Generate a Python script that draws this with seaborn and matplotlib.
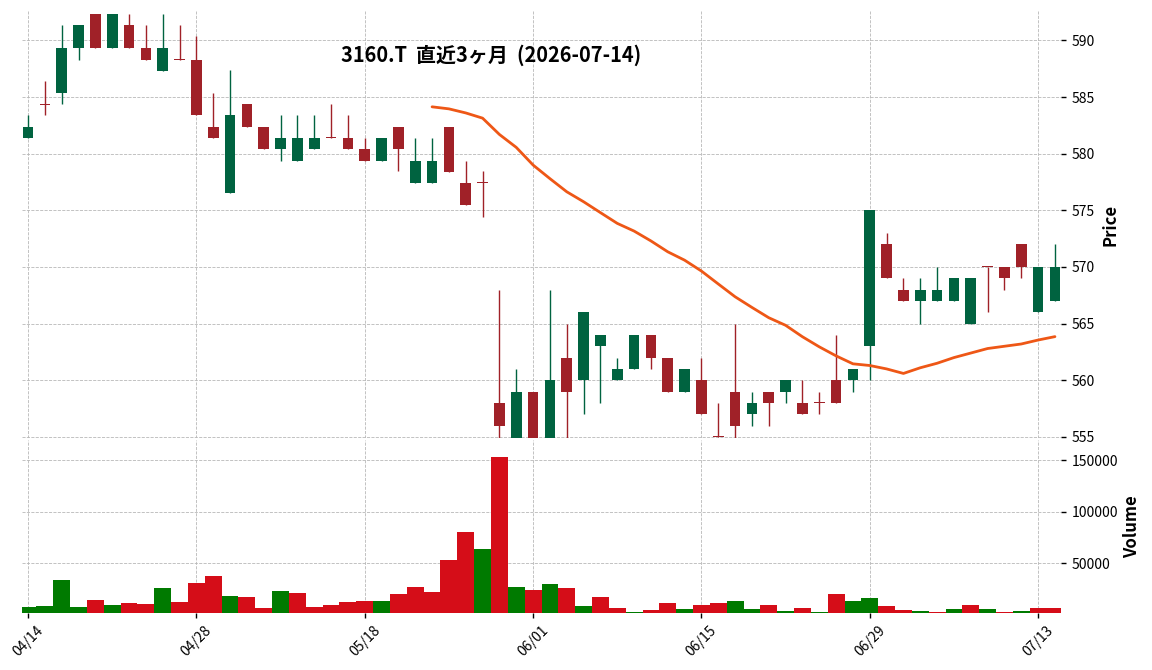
import matplotlib
matplotlib.use("Agg")
import matplotlib.pyplot as plt
import seaborn as sns
import numpy as np

# 日足データ (チャートから読み取り)
opens = [581.4, 584.35, 585.4, 589.3, 592.3, 589.3, 591.35, 589.3, 587.3, 588.3,
         588.3, 582.4, 576.5, 584.4, 582.4, 580.4, 579.4, 580.4, 581.4, 581.4,
         580.45, 579.4, 582.4, 577.4, 577.4, 582.4, 577.45, 577.45, 558, 553,
         559, 553, 562, 560, 563, 560, 561, 564, 562, 559,
         560, 555, 559, 557, 559, 559, 558, 558, 560, 560,
         563, 572, 568, 567, 567, 567, 565, 570, 570, 572,
         566, 567]
highs = [583.4, 586.4, 591.35, 591.35, 592.3, 592.3, 592.3, 591.35, 592.3, 591.35,
         590.4, 585.4, 587.35, 584.4, 582.4, 583.4, 583.4, 583.4, 584.35, 583.4,
         581.4, 581.4, 582.4, 581.4, 581.4, 582.4, 579.4, 578.45, 568, 561,
         559, 568, 565, 566, 564, 562, 564, 564, 562, 561,
         562, 558, 565, 559, 559, 560, 560, 559, 564, 561,
         575, 573, 569, 569, 570, 569, 569, 570, 570, 572,
         570, 572]
lows = [581.4, 583.4, 584.35, 588.3, 589.3, 589.3, 589.3, 588.3, 587.3, 588.3,
        583.4, 581.4, 576.5, 582.4, 580.4, 579.4, 579.4, 580.4, 581.4, 580.4,
        579.4, 579.4, 578.45, 577.4, 577.4, 578.4, 575.5, 574.45, 552, 553,
        553, 553, 554, 557, 558, 560, 561, 561, 559, 559,
        557, 555, 554, 556, 556, 558, 557, 557, 558, 559,
        560, 569, 567, 565, 567, 567, 565, 566, 568, 569,
        566, 567]
closes = [582.4, 584.35, 589.3, 591.35, 589.3, 592.3, 589.3, 588.3, 589.3, 588.3,
          583.4, 581.4, 583.4, 582.4, 580.4, 581.4, 581.4, 581.4, 581.4, 580.4,
          579.4, 581.4, 580.4, 579.4, 579.4, 578.4, 575.5, 577.45, 556, 559,
          553, 560, 559, 566, 564, 561, 564, 562, 559, 561,
          557, 555, 556, 558, 558, 560, 557, 558, 558, 561,
          575, 569, 567, 568, 568, 569, 569, 570, 569, 570,
          570, 570]
volumes = [7600, 8800, 33800, 7600, 14400, 9500, 11500, 10500, 26000, 12400,
           30900, 37700, 18300, 17300, 6600, 23100, 21200, 7600, 9500, 12400,
           13400, 13400, 20200, 27000, 22100, 53200, 80400, 63900, 153200, 27000,
           24100, 29900, 26000, 8500, 17300, 6600, 2700, 4700, 11500, 5600,
           9500, 11500, 13400, 5600, 9500, 3700, 6600, 2700, 20200, 13400,
           16300, 8500, 4700, 3700, 2700, 5600, 9500, 5600, 2700, 3700,
           6600, 6600]
vol_up = [1, 1, 1, 1, 0, 1, 0, 0, 1, 0, 0, 0, 1, 0, 0, 1, 0, 0, 0, 0,
          0, 1, 0, 0, 0, 0, 0, 1, 0, 1, 0, 1, 0, 1, 0, 0, 1, 0, 0, 1,
          0, 0, 1, 1, 0, 1, 0, 1, 0, 1, 1, 0, 0, 1, 0, 1, 0, 1, 0, 1,
          0, 0]
# 25日移動平均 (index 24 から)
ma_start = 24
ma25 = [584.14, 583.96, 583.6, 583.14, 581.7, 580.56, 579.0, 577.8, 576.64, 575.76,
        574.8, 573.85, 573.17, 572.3, 571.34, 570.6, 569.64, 568.5, 567.37, 566.43,
        565.52, 564.85, 563.84, 562.95, 562.15, 561.45, 561.3, 561.0, 560.6, 561.1,
        561.5, 562.0, 562.4, 562.8, 563.0, 563.2, 563.55, 563.85]

tick_pos = [0, 10, 20, 30, 40, 50, 60]
tick_labels = ["04/14", "04/28", "05/18", "06/01", "06/15", "06/29", "07/13"]
title = "3160.T  直近3ヶ月  (2026-07-14)"

up_c, down_c = "#006340", "#a02128"
vup_c, vdown_c = "#007a00", "#d50d18"
ma_c = "#ee5716"

sns.set_style("white")
plt.rcParams['font.family'] = ['Noto Sans CJK JP', 'DejaVu Sans']
plt.rcParams['text.color'] = 'black'
plt.rcParams['axes.labelcolor'] = 'black'
plt.rcParams['xtick.color'] = 'black'
plt.rcParams['ytick.color'] = 'black'

fig = plt.figure(figsize=(11.52, 6.70), dpi=100)
ax = fig.add_axes([22/1152, 1 - 438/670, 1039/1152, 427/670])
axv = fig.add_axes([22/1152, 1 - 613/670, 1039/1152, 173/670], sharex=ax)

x = np.arange(len(opens))
o = np.array(opens); c = np.array(closes)
is_up = c > o
colors = np.where(is_up, up_c, down_c)

# ローソク足
ax.vlines(x, lows, highs, colors=colors, linewidth=1.0, zorder=2)
body_h = np.abs(c - o)
doji = body_h == 0
body_h = np.where(doji, 0.09, body_h)
body_b = np.where(doji, o - 0.045, np.minimum(o, c))
ax.bar(x, body_h, bottom=body_b, width=0.63, color=colors, linewidth=0, zorder=3)

# 移動平均
ma_x = x[ma_start:ma_start + len(ma25)]
sns.lineplot(x=ma_x, y=ma25, ax=ax, color=ma_c, linewidth=2.0, zorder=4)

# 出来高
vcols = [vup_c if u else vdown_c for u in vol_up]
axv.bar(x, volumes, width=1.0, color=vcols, linewidth=0, zorder=2)

for a in (ax, axv):
    a.grid(True, linestyle='--', color='#b8b8b8', linewidth=0.6, zorder=0)
    a.set_axisbelow(True)
    for s in a.spines.values():
        s.set_visible(False)
    a.yaxis.tick_right()
    a.yaxis.set_label_position("right")
    a.tick_params(axis='y', which='both', right=True, length=3.5, width=1, labelsize=10, pad=4)

ax.set_xlim(-0.36, 61.36)
ax.set_ylim(554.9, 592.6)
ax.set_yticks([555, 560, 565, 570, 575, 580, 585, 590])
ax.set_ylabel("Price", fontsize=12, fontweight='bold', labelpad=5)
ax.tick_params(axis='x', which='both', bottom=False, labelbottom=False)

axv.set_ylim(1750, 169700)
axv.set_yticks([50000, 100000, 150000])
axv.set_yticklabels(["50000", "100000", "150000"])
axv.set_ylabel("Volume", fontsize=12, fontweight='bold', labelpad=4)
axv.set_xticks(tick_pos)
axv.set_xticklabels(tick_labels, rotation=45, fontsize=10)
axv.tick_params(axis='x', bottom=True, length=3.5, width=1, pad=4)

fig.text(491/1152, 1 - 55/670, title, ha='center', va='center',
         fontsize=14.4, fontweight='bold')

fig.savefig("out.png", dpi=100)
